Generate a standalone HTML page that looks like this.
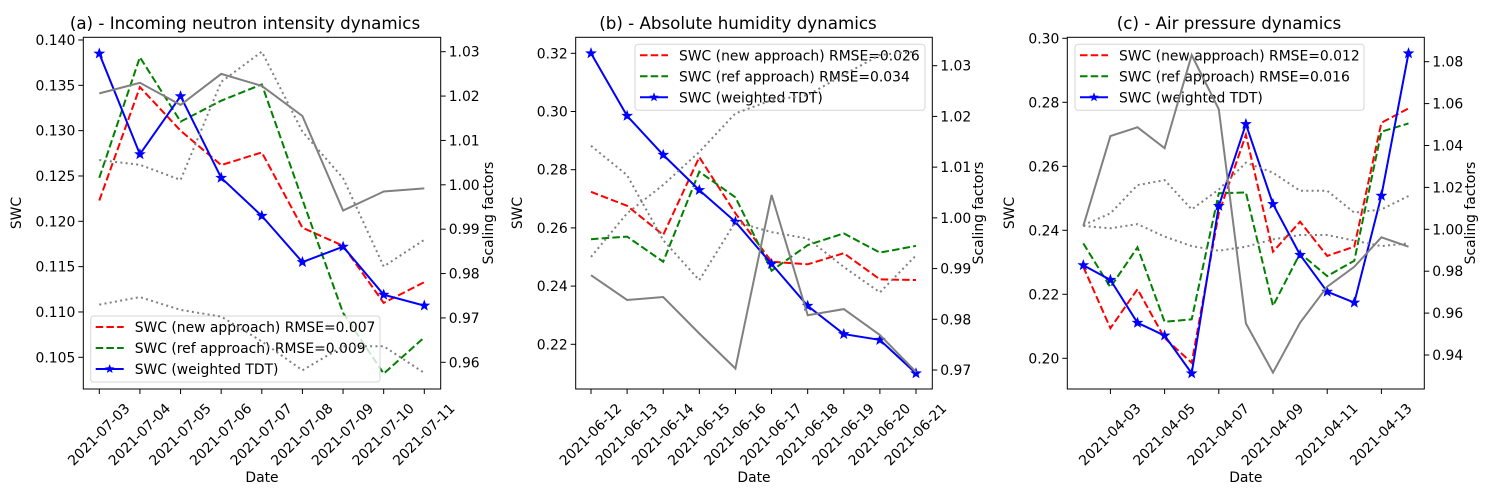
<!DOCTYPE html>
<html><head><meta charset="utf-8">
<style>
html,body{margin:0;padding:0;background:#fff;}
svg{display:block;font-family:"DejaVu Sans","Liberation Sans",sans-serif;}
</style></head>
<body>
<svg id="fig" width="1498" height="497" viewBox="0 0 1498 497" xmlns="http://www.w3.org/2000/svg"></svg>
<script>
// ---------- Panel A data ----------
const datesA = ["2021-07-03","2021-07-04","2021-07-05","2021-07-06","2021-07-07","2021-07-08","2021-07-09","2021-07-10","2021-07-11"];
const newA = [0.1223,0.1348,0.1300,0.1262,0.1276,0.1193,0.1173,0.1110,0.1133];
const refA = [0.1248,0.1381,0.1310,0.1333,0.1351,0.1224,0.1099,0.1032,0.1072];
const tdtA = [0.1385,0.1274,0.1338,0.1248,0.1206,0.1155,0.1172,0.1119,0.1107];
const sfA = [1.0206,1.0230,1.0180,1.0250,1.0223,1.0155,0.9942,0.9985,0.9992];
const upA = [1.0056,1.0045,1.0011,1.0232,1.0300,1.0120,1.0015,0.9816,0.9876];
const loA = [0.9730,0.9747,0.9718,0.9703,0.9647,0.9582,0.9636,0.9636,0.9576];
const leftTicksA = [0.105,0.110,0.115,0.120,0.125,0.130,0.135,0.140];
const rightTicksA = [0.96,0.97,0.98,0.99,1.00,1.01,1.02,1.03];
const rmseA = ["0.007","0.009"];
// ---------- Panel B data ----------
const datesB = ["2021-06-12","2021-06-13","2021-06-14","2021-06-15","2021-06-16","2021-06-17","2021-06-18","2021-06-19","2021-06-20","2021-06-21"];
const newB = [0.2724,0.2676,0.2576,0.2843,0.2650,0.2484,0.2475,0.2513,0.2423,0.2421];
const refB = [0.2561,0.2570,0.2484,0.2793,0.2705,0.2453,0.2541,0.2581,0.2515,0.2538];
const tdtB = [0.3200,0.2985,0.2851,0.2730,0.2621,0.2476,0.2332,0.2235,0.2215,0.2100];
const sfB = [0.9887,0.9838,0.9844,0.9772,0.9703,1.0045,0.9808,0.9820,0.9769,0.9696];
const upB = [0.9923,1.0009,1.0065,1.0130,1.0206,1.0232,1.0242,1.0282,1.0321,1.0328];
const loB = [1.0142,1.0084,0.9956,0.9877,0.9992,0.9972,0.9959,0.9903,0.9853,0.9926];
const leftTicksB = [0.22,0.24,0.26,0.28,0.30,0.32];
const rightTicksB = [0.97,0.98,0.99,1.00,1.01,1.02,1.03];
const rmseB = ["0.026","0.034"];
// ---------- Panel C data ----------
const datesC = ["2021-04-02","2021-04-03","2021-04-04","2021-04-05","2021-04-06","2021-04-07","2021-04-08","2021-04-09","2021-04-10","2021-04-11","2021-04-12","2021-04-13","2021-04-14"];
const newC = [0.2286,0.2094,0.2216,0.2063,0.1986,0.2453,0.2698,0.2333,0.2427,0.2320,0.2349,0.2736,0.2781];
const refC = [0.2359,0.2222,0.2347,0.2114,0.2122,0.2516,0.2518,0.2164,0.2328,0.2257,0.2305,0.2708,0.2734];
const tdtC = [0.2291,0.2245,0.2111,0.2071,0.1953,0.2476,0.2732,0.2482,0.2323,0.2208,0.2174,0.2508,0.2953];
const sfC = [1.0016,1.0445,1.0487,1.0387,1.0832,1.0573,0.9551,0.9316,0.9554,0.9726,0.9821,0.9962,0.9917];
const upC = [1.0020,1.0076,1.0211,1.0235,1.0095,1.0190,1.0318,1.0270,1.0184,1.0184,1.0079,1.0095,1.0159];
const loC = [1.0016,1.0005,1.0025,0.9965,0.9920,0.9898,0.9917,0.9952,0.9973,0.9973,0.9946,0.9920,0.9933];
const leftTicksC = [0.20,0.22,0.24,0.26,0.28,0.30];
const rightTicksC = [0.94,0.96,0.98,1.00,1.02,1.04,1.06,1.08];
const xTickDatesC = ["2021-04-03","2021-04-05","2021-04-07","2021-04-09","2021-04-11","2021-04-13"];
const rmseC = ["0.012","0.016"];

const NS = "http://www.w3.org/2000/svg";
const fig = document.getElementById('fig');
const LW = 2, DASH = '7.5,3.2', DOT = '2,3.3';
function el(tag, attrs, parent, txt){
  const e = document.createElementNS(NS, tag);
  for (const k in attrs) e.setAttribute(k, attrs[k]);
  if (txt !== undefined) e.textContent = txt;
  (parent || fig).appendChild(e);
  return e;
}
function lin(d0,d1,r0,r1){ return v => r0 + (v-d0)/(d1-d0)*(r1-r0); }
function star(cx,cy,r){
  let p=[];
  for(let i=0;i<10;i++){const a=-Math.PI/2+i*Math.PI/5; const rr=i%2?r*0.42:r; p.push((cx+rr*Math.cos(a)).toFixed(1)+","+(cy+rr*Math.sin(a)).toFixed(1));}
  return p.join(" ");
}

function panel(cfg){
  const g = el('g', {});
  
  
  const {L,R,T,B} = cfg.box;
  const x = lin(0, cfg.dates.length-1, cfg.x0, cfg.x1);
  const yl = lin(cfg.ly[0], cfg.ly[1], cfg.ly[2], cfg.ly[3]);
  const yr = lin(cfg.ry[0], cfg.ry[1], cfg.ry[2], cfg.ry[3]);
  const clipId = 'clip'+cfg.name;
  const cp = el('clipPath', {id:clipId}, g);
  el('rect', {x:L,y:T,width:R-L,height:B-T}, cp);
  const pts = (arr, ys) => arr.map((v,i)=>x(i).toFixed(1)+","+ys(v).toFixed(1)).join(" ");
  const plot = el('g', {'clip-path':'url(#'+clipId+')'}, g);
  let s = el('polyline', {points:pts(cfg.nw,yl), fill:'none', stroke:'#ff0000','stroke-width':LW,'stroke-dasharray':DASH}, plot);
   
  s = el('polyline', {points:pts(cfg.rf,yl), fill:'none', stroke:'#008000','stroke-width':LW,'stroke-dasharray':DASH}, plot);
   
  s = el('polyline', {points:pts(cfg.td,yl), fill:'none', stroke:'#0000ff','stroke-width':LW}, plot);
   
  cfg.td.forEach((v,i)=>{
    const m = el('polygon', {points:star(x(i), yl(v), 5), fill:'#0000ff', stroke:'#0000ff','stroke-width':0.8}, plot);
     
  });
  // legend
  const lg = el('g', {}, g);
   
  const lx = cfg.leg[0], ly = cfg.leg[1], lw = cfg.leg[2];
  el('rect', {x:lx,y:ly,width:lw,height:66,rx:3,fill:'#fff','fill-opacity':0.8,stroke:'#d6d6d6'}, lg);
  const rows = [
    ['#ff0000',DASH,'SWC (new approach) RMSE='+cfg.rmse[0]],
    ['#008000',DASH,'SWC (ref approach) RMSE='+cfg.rmse[1]],
    ['#0000ff','','SWC (weighted TDT)']];
  rows.forEach((r,i)=>{
    const yy = ly + 11 + i*21;
    const e = el('g', {}, lg);
     
    const a = {x1:lx+5,x2:lx+33,y1:yy,y2:yy,stroke:r[0],'stroke-width':LW};
    if (r[1]) a['stroke-dasharray']=r[1];
    el('line', a, e);
    if (!r[1]) el('polygon',{points:star(lx+19,yy,5),fill:'#0000ff'},e);
    el('text', {x:lx+44,y:yy+5,'font-size':'13.9px',fill:'#000'}, e, r[2]);
  });
  // right-axis series
  const top = el('g', {'clip-path':'url(#'+clipId+')'}, g);
  s = el('polyline', {points:pts(cfg.sf,yr), fill:'none', stroke:'#808080','stroke-width':LW}, top);
   
  s = el('polyline', {points:pts(cfg.up,yr), fill:'none', stroke:'#808080','stroke-width':LW,'stroke-dasharray':DOT}, top);
   
  s = el('polyline', {points:pts(cfg.lo,yr), fill:'none', stroke:'#808080','stroke-width':LW,'stroke-dasharray':DOT}, top);
   
  const fr = el('rect', {x:L,y:T,width:R-L,height:B-T,fill:'none',stroke:'#000','stroke-width':1}, g);
   
  cfg.lt.forEach(v=>{
    const yy = yl(v);
    el('line',{x1:L-5,x2:L,y1:yy,y2:yy,stroke:'#000'},g);
    const t = el('text',{x:L-8,y:yy+5,'text-anchor':'end','font-size':'13.9px'},g, v.toFixed(cfg.ld));
     
  });
  cfg.rt.forEach(v=>{
    const yy = yr(v);
    el('line',{x1:R,x2:R+5,y1:yy,y2:yy,stroke:'#000'},g);
    const t = el('text',{x:R+8,y:yy+5,'font-size':'13.9px'},g, v.toFixed(2));
     
  });
  cfg.xt.forEach(d=>{
    const i = cfg.dates.indexOf(d);
    const xx = x(i);
    el('line',{x1:xx,x2:xx,y1:B,y2:B+5,stroke:'#000'},g);
    const t = el('text',{x:xx,y:435,'text-anchor':'middle','dominant-baseline':'central','font-size':'13.9px',transform:'rotate(-45 '+xx+' 435)'},g, d);
     
  });
  let t = el('text',{x:(L+R)/2,y:482,'text-anchor':'middle','font-size':'13.9px'},g,'Date');
   
  t = el('text',{x:cfg.sx,y:213,'text-anchor':'middle','font-size':'13.9px',transform:'rotate(-90 '+cfg.sx+' 213)'},g,'SWC');
   
  t = el('text',{x:cfg.rx,y:213,'text-anchor':'middle','font-size':'13.9px',transform:'rotate(-90 '+cfg.rx+' 213)'},g,'Scaling factors');
   
  t = el('text',{x:cfg.tx,y:29,'text-anchor':'middle','font-size':'16.7px'},g,cfg.title);
   
}

panel({name:'panel-a', box:{L:83.3,R:440.7,T:37.3,B:389}, dates:datesA, x0:99.3, x1:424.3,
  ly:[0.140,0.105,40,357.3], ry:[1.03,0.96,51.7,362.3], nw:newA, rf:refA, td:tdtA, sf:sfA, up:upA, lo:loA,
  lt:leftTicksA, ld:3, rt:rightTicksA, xt:datesA, leg:[90.7,316,289.3], rmse:rmseA,
  sx:21, rx:493, tx:245, title:'(a) - Incoming neutron intensity dynamics'});
panel({name:'panel-b', box:{L:575.7,R:932.3,T:37.3,B:389}, dates:datesB, x0:591, x1:916,
  ly:[0.32,0.22,53.3,344.3], ry:[1.03,0.97,65.7,370], nw:newB, rf:refB, td:tdtB, sf:sfB, up:upB, lo:loB,
  lt:leftTicksB, ld:2, rt:rightTicksB, xt:datesB, leg:[635,44.3,290], rmse:rmseB,
  sx:522, rx:983, tx:738, title:'(b) - Absolute humidity dynamics'});
panel({name:'panel-c', box:{L:1067.3,R:1424.3,T:37.3,B:389}, dates:datesC, x0:1083.3, x1:1408.5,
  ly:[0.30,0.20,38.3,358.3], ry:[1.08,0.94,61.7,355], nw:newC, rf:refC, td:tdtC, sf:sfC, up:upC, lo:loC,
  lt:leftTicksC, ld:2, rt:rightTicksC, xt:xTickDatesC, leg:[1075,44.3,289], rmse:rmseC,
  sx:1014, rx:1475, tx:1229, title:'(c)  - Air pressure dynamics'});
</script>
</body></html>
